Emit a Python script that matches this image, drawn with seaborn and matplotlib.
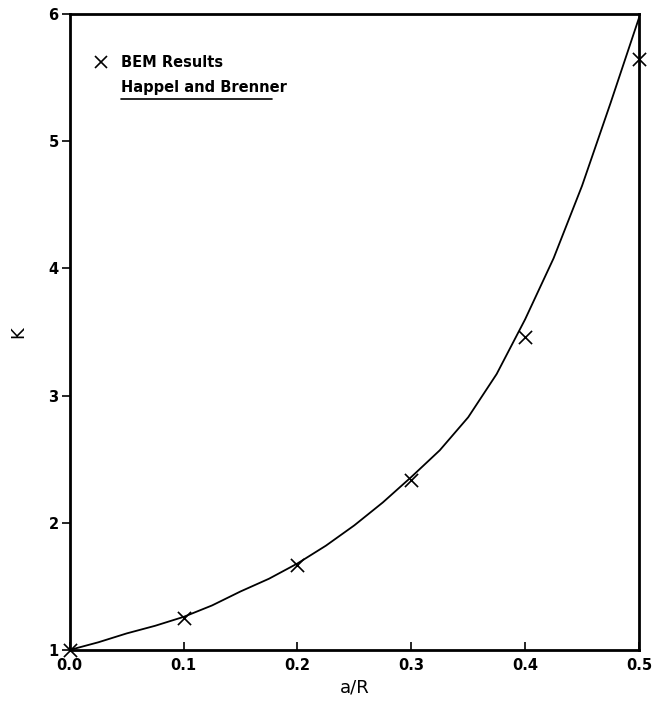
import numpy as np
import pandas as pd
import matplotlib
matplotlib.use("Agg")
import matplotlib.pyplot as plt
import seaborn as sns

sns.set_style("white")
plt.rcParams['font.family'] = ['DejaVu Sans']
plt.rcParams['text.color'] = 'black'
plt.rcParams['axes.labelcolor'] = 'black'
plt.rcParams['xtick.color'] = 'black'
plt.rcParams['ytick.color'] = 'black'

# BEM results (markers)
bem_x = [0.0, 0.1, 0.2, 0.3, 0.4, 0.5]
bem_k = [1.0, 1.25, 1.67, 2.34, 3.46, 5.65]

# Happel and Brenner curve
hb_x = [0.0, 0.025, 0.05, 0.075, 0.1, 0.125, 0.15, 0.175, 0.2, 0.225, 0.25,
        0.275, 0.3, 0.325, 0.35, 0.375, 0.4, 0.425, 0.45, 0.475, 0.5]
hb_k = [1.0, 1.06, 1.13, 1.19, 1.26, 1.35, 1.46, 1.56, 1.68, 1.82, 1.98,
        2.16, 2.36, 2.57, 2.83, 3.17, 3.60, 4.08, 4.65, 5.30, 5.97]

x_ticks = [0.0, 0.1, 0.2, 0.3, 0.4, 0.5]
y_ticks = [1, 2, 3, 4, 5, 6]

bem = pd.DataFrame({'a/R': bem_x, 'K': bem_k})
hb = pd.DataFrame({'a/R': hb_x, 'K': hb_k})

fig = plt.figure(figsize=(6.52, 7.08), dpi=100)
ax = fig.add_axes([0.107, 0.082, 0.873, 0.898])

sns.lineplot(data=hb, x='a/R', y='K', color='black', linewidth=1.3, ax=ax)
sns.scatterplot(data=bem, x='a/R', y='K', marker='x', s=90, color='black',
                linewidth=1.2, ax=ax, zorder=3, clip_on=False)

ax.set_xlim(0, 0.5)
ax.set_ylim(1, 6)
ax.set_xticks(x_ticks)
ax.set_xticklabels([f"{v:.1f}" for v in x_ticks], fontweight='bold', fontsize=10.5)
ax.set_yticks(y_ticks)
ax.set_yticklabels([str(v) for v in y_ticks], fontweight='bold', fontsize=10.5)
ax.tick_params(axis='x', direction='in', length=6, width=1.2, pad=6, bottom=True)
ax.tick_params(axis='y', direction='out', length=6, width=1.2, pad=2, left=True)

for s in ax.spines.values():
    s.set_linewidth(2)
    s.set_color('black')

ax.set_xlabel('a/R', fontsize=13, labelpad=4)
ax.set_ylabel('K', fontsize=13, labelpad=15)

# legend drawn by hand: marker + text, then text with line underneath
ax.plot([0.055], [0.924], marker='x', color='black', markersize=9,
        markeredgewidth=1.2, transform=ax.transAxes)
ax.text(0.09, 0.924, 'BEM Results', transform=ax.transAxes, fontsize=10.5,
        fontweight='bold', va='center')
ax.text(0.09, 0.885, 'Happel and Brenner', transform=ax.transAxes, fontsize=10.5,
        fontweight='bold', va='center')
ax.plot([0.09, 0.355], [0.866, 0.866], color='black', linewidth=1.2,
        transform=ax.transAxes)

fig.savefig('out.png', dpi=100)
